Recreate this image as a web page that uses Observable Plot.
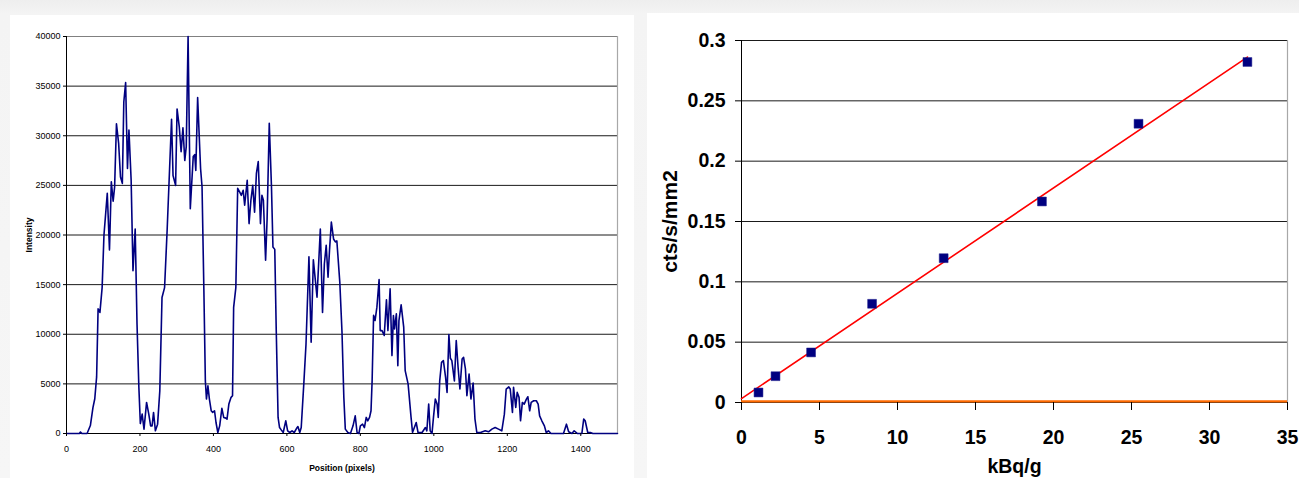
<!DOCTYPE html>
<html><head><meta charset="utf-8">
<script src="https://cdn.jsdelivr.net/npm/d3@7"></script>
<script src="https://cdn.jsdelivr.net/npm/@observablehq/plot@0.6"></script>
<style>
html,body{margin:0;padding:0;background:#f3f3f3;width:1299px;height:478px;overflow:hidden;font-family:"Liberation Sans",Arial,sans-serif;}
#wrap{position:relative;width:1299px;height:478px;background:linear-gradient(#eeeeee 0px,#f4f4f4 14px,#f6f6f6 478px);}
.panel{position:absolute;background:#fff;}
#left{left:10px;top:15px;width:624px;height:463px;}
#right{left:647px;top:13px;width:652px;height:465px;}
#c1,#c2{position:absolute;top:0;}
#c1{left:0;} #c2{left:647px;}
svg{overflow:visible;}
</style></head>
<body><div id="wrap"><div class="panel" id="left"></div><div class="panel" id="right"></div><div id="c1"></div><div id="c2"></div></div>
<script>
// ---------- Left chart: intensity profile ----------
const position = [0,20,35,38,42,56,65,72,77,82,86,91,97,102,111,117,122,127,131,136,142,147,152,156,161,166,170,176,181,187,192,197,201,206,211,218,224,229,233,237,242,248,254,260,267,274,286,290,297,301,307,312,317,322,326,331,337,345,349,352,357,365,369,374,378,381,385,389,394,398,403,407,412,417,423,428,434,437,442,448,452,455,461,466,472,476,481,485,492,497,502,507,512,517,522,528,532,536,542,546,552,558,562,567,571,576,580,585,590,597,602,608,614,620,626,630,635,639,646,652,660,666,672,677,682,691,697,702,707,712,716,721,727,732,736,744,750,755,759,766,773,780,786,791,796,800,806,811,816,820,825,829,832,836,840,845,851,854,859,865,871,875,881,886,890,893,898,902,905,911,918,922,930,938,942,947,952,957,968,977,981,986,990,995,999,1004,1009,1012,1016,1021,1026,1032,1036,1041,1045,1049,1056,1061,1066,1071,1077,1081,1086,1090,1096,1101,1107,1112,1117,1127,1140,1149,1158,1167,1176,1185,1192,1197,1204,1208,1214,1217,1223,1227,1232,1236,1241,1246,1252,1256,1261,1265,1272,1279,1284,1288,1294,1301,1306,1312,1319,1353,1361,1367,1376,1382,1391,1403,1408,1412,1419,1426,1433,1500];
const intensity = [0,0,0,150,0,0,800,2600,3500,5700,12560,12200,14700,20000,24200,18500,25350,23400,24850,31200,29200,25850,25200,33400,35350,26700,30570,25500,16400,20600,11000,4650,1000,1950,440,3130,1950,770,770,2120,270,940,4300,13700,14700,20500,31650,26000,25000,32700,30900,28400,30800,27500,28900,40000,22650,27900,28100,26500,33840,26700,24850,14400,5300,3470,4800,3470,2290,2120,2290,1110,100,770,2530,1620,1550,1450,2960,3640,3800,12700,14700,24700,24300,24000,24500,23000,25500,21150,23500,25000,22300,26200,27400,21150,24000,23500,17450,21500,31250,24850,18800,18550,10370,1620,600,340,100,1280,270,100,270,100,500,700,100,600,5000,9000,17800,9200,17500,15600,13740,20600,12200,17100,18950,15750,18450,21300,19600,19300,19400,15250,10200,3640,440,100,0,770,1780,100,0,770,940,600,1620,1280,1620,2290,5300,11900,11380,12730,15500,10370,10370,9870,13470,10370,14580,7850,11890,10540,12050,6840,11380,12960,10710,6330,4980,1620,100,600,1110,100,100,600,270,2960,270,0,1620,3470,2960,1620,5300,7170,7340,5650,4140,9970,7580,7340,5300,9360,6670,4480,7510,7680,6500,3800,6000,3470,5080,1450,100,100,270,170,440,600,440,270,1950,4480,4700,4480,2120,4650,2630,4140,3640,1280,3130,2960,3470,3700,2290,3130,3300,3300,2960,1780,1280,770,100,270,0,0,940,170,0,270,0,0,1450,1280,100,100,0,0];
const leftXTicks = [0,200,400,600,800,1000,1200,1400];
const leftYTicks = [0,5000,10000,15000,20000,25000,30000,35000,40000];

// ---------- Right chart: calibration ----------
const activity = [1.09,2.18,4.46,8.37,12.96,19.26,25.45,32.43];      // kBq/g
const countRate = [0.0083,0.0218,0.0415,0.0818,0.1196,0.1666,0.231,0.2822]; // cts/s/mm2
const backgroundLevel = [0.001];
const rightXTicks = [0,5,10,15,20,25,30,35];
const rightYTicks = [0,0.05,0.1,0.15,0.2,0.25,0.3];

const profile = position.map((p,i)=>({pos:p, val:intensity[i]}));
const points = activity.map((a,i)=>({x:a, y:countRate[i]}));

// least-squares fit drawn from 0 to the last standard
const mx = d3.mean(activity), my = d3.mean(countRate);
const slope = d3.sum(activity,(a,i)=>(a-mx)*(countRate[i]-my)) / d3.sum(activity,a=>(a-mx)**2);
const intercept = my - slope*mx;
const fitX = [0, d3.max(activity)];
const fit = fitX.map(x=>({x, y: intercept + slope*x}));

const FONT = "Liberation Sans, Arial, sans-serif";

const left = Plot.plot({
  width: 640, height: 478,
  marginLeft: 66, marginRight: 23, marginTop: 36, marginBottom: 45,
  style: {background: "transparent", fontFamily: FONT, fontSize: "9px", color: "#000", overflow: "visible"},
  x: {domain: [0,1500]},
  y: {domain: [0,40000]},
  marks: [
    Plot.ruleY(leftYTicks.slice(1,-1), {stroke: "#1a1a1a", strokeWidth: 1}),
    Plot.ruleY([40000], {stroke: "#808080", strokeWidth: 1.2}),
    Plot.ruleX([1500], {stroke: "#a8a8a8", strokeWidth: 1.2}),
    Plot.ruleX([0], {stroke: "#000", strokeWidth: 1}),
    Plot.ruleY([0], {stroke: "#000", strokeWidth: 1}),
    Plot.line(profile, {x: "pos", y: "val", stroke: "#000080", strokeWidth: 1.6}),
    Plot.axisX({ticks: leftXTicks, tickFormat: d => String(d), tickSize: 3, tickPadding: 9, label: null, fontSize: 9}),
    Plot.axisY({ticks: leftYTicks, tickFormat: d => String(d), tickSize: 3, tickPadding: 3, label: null, fontSize: 9}),
    Plot.text(["Position (pixels)"], {frameAnchor: "bottom", lineAnchor: "bottom", dy: 37, fontWeight: "bold", fontSize: 8.5}),
    Plot.text(["Intensity"], {frameAnchor: "left", rotate: -90, dx: -37, textAnchor: "middle", fontWeight: "bold", fontSize: 8.5})
  ]
});
document.getElementById("c1").appendChild(left);

const right = Plot.plot({
  width: 652, height: 478,
  marginLeft: 94, marginRight: 12, marginTop: 40, marginBottom: 76,
  style: {background: "transparent", fontFamily: FONT, fontSize: "19.5px", fontWeight: "bold", color: "#000", overflow: "visible"},
  x: {domain: [0,35]},
  y: {domain: [0,0.3]},
  marks: [
    Plot.ruleY(rightYTicks.slice(1), {stroke: "#1a1a1a", strokeWidth: 1}),
    Plot.ruleX([35], {stroke: "#a8a8a8", strokeWidth: 1.2}),
    Plot.ruleX([0], {stroke: "#000", strokeWidth: 1}),
    Plot.ruleY([0], {stroke: "#222", strokeWidth: 1.2}),
    Plot.ruleY(backgroundLevel, {stroke: "#ff6a00", strokeWidth: 2.2}),
    Plot.line(fit, {x: "x", y: "y", stroke: "#ff0000", strokeWidth: 1.6}),
    Plot.dot(points, {x: "x", y: "y", symbol: "square", r: 5, fill: "#000080", stroke: "#1a1a8a", strokeWidth: 0.5}),
    Plot.axisX({ticks: rightXTicks, tickFormat: d => String(d), tickSize: 8, tickPadding: 20, label: null, fontSize: 19.5, fontWeight: "bold"}),
    Plot.axisY({ticks: rightYTicks, tickFormat: d => String(+d.toFixed(2)), tickSize: 6, tickPadding: 10, label: null, fontSize: 19.5, fontWeight: "bold"}),
    Plot.text(["kBq/g"], {frameAnchor: "bottom", lineAnchor: "bottom", dy: 70, fontWeight: "bold", fontSize: 19.5}),
    Plot.text(["cts/s/mm2"], {frameAnchor: "left", rotate: -90, dx: -71, textAnchor: "middle", fontWeight: "bold", fontSize: 21})
  ]
});
document.getElementById("c2").appendChild(right);
</script>
</body></html>
